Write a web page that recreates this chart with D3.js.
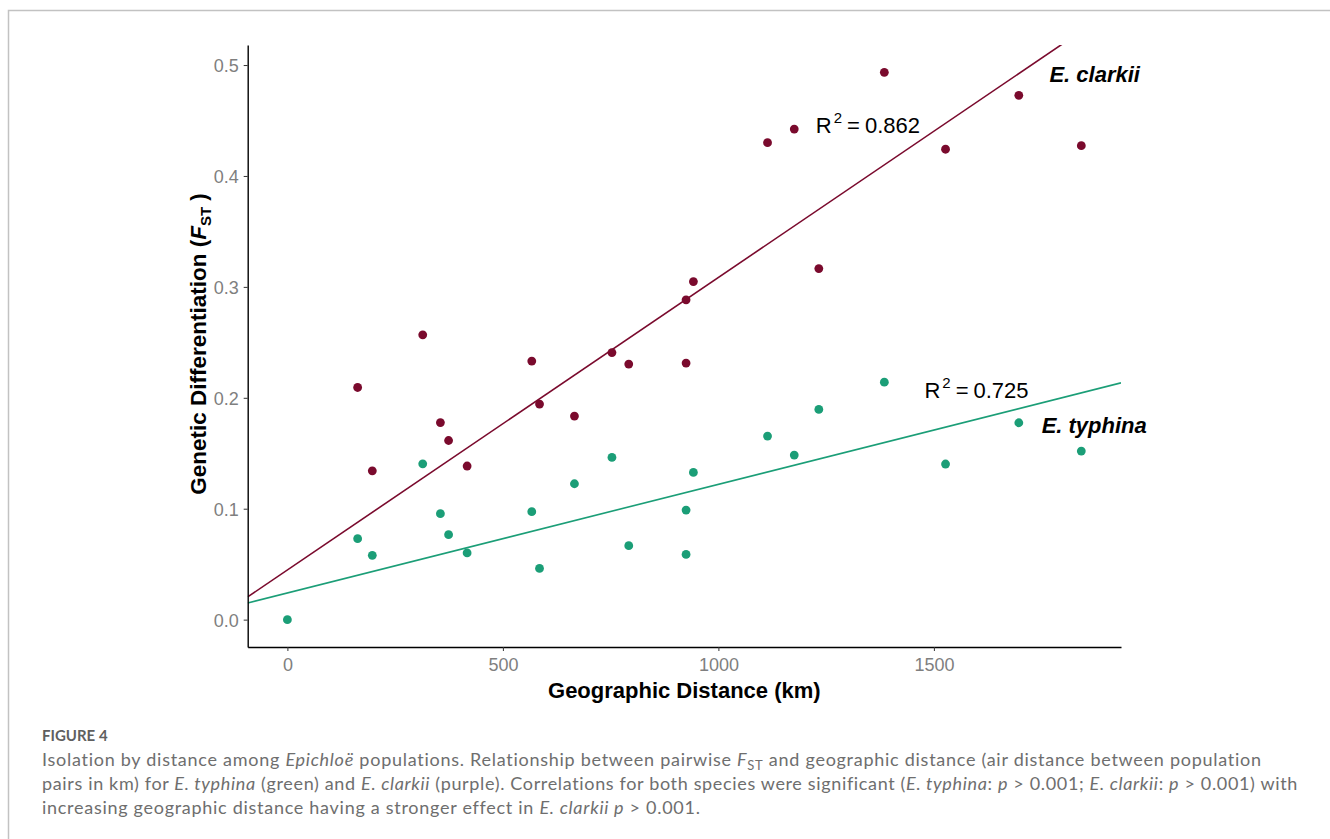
<!DOCTYPE html>
<html>
<head>
<meta charset="utf-8">
<script src="https://cdn.jsdelivr.net/npm/d3@7"></script>
<style>
  body { margin: 0; background: #fff; }
  svg { display: block; }
</style>
</head>
<body>
<div id="chart"></div>
<script>

// pairwise geographic distance between populations (km)
var distanceKm = [0, 163, 197, 314, 355, 374, 417, 567, 585, 666, 753, 792, 925, 925, 942, 1114, 1176, 1233, 1385, 1527, 1697, 1842];
// pairwise Fst for E. typhina
var typhinaFst = [0, 0.073, 0.058, 0.1405, 0.0955, 0.0766, 0.0601, 0.0973, 0.0462, 0.1225, 0.1462, 0.0667, 0.0988, 0.0588, 0.1327, 0.1655, 0.1484, 0.1895, 0.2141, 0.1403, 0.1775, 0.152];
// pairwise Fst for E. clarkii (no zero-distance pair)
var clarkiiFst = [null, 0.2093, 0.1342, 0.2568, 0.1777, 0.1615, 0.1385, 0.2331, 0.1943, 0.1835, 0.2408, 0.2304, 0.2883, 0.2313, 0.3048, 0.43, 0.4423, 0.3165, 0.4934, 0.4241, 0.4727, 0.4273];

var species = ["E. typhina", "E. clarkii"];
var fitIntercept = [0.0241, 0.0448];
var fitSlope = [0.0000979, 0.0002637];
var fitR2 = ["0.725", "0.862"];

// where the labels sit, in data units
var nameKm = [1750, 1768];
var nameFst = [0.168, 0.485];
var r2Km = [1478, 1226];
var r2Fst = [0.1995, 0.439];

var xTicks = [0, 500, 1000, 1500];
var yTicks = [0, 0.1, 0.2, 0.3, 0.4, 0.5];

var colors = ["#1b9e77", "#7a0a2d"];

var width = 1330, height = 839;
var panel = {left: 247.7, right: 1121, top: 45, bottom: 647};
var font = "'Liberation Sans', Arial, Helvetica, sans-serif";

var svg = d3.select("#chart").append("svg")
    .attr("width", width)
    .attr("height", height);

svg.append("rect").attr("width", width).attr("height", height).attr("fill", "#fff");

// page frame (left and top edge only)
svg.append("path")
    .attr("d", "M8.5," + height + "V10.5H" + width)
    .attr("fill", "none")
    .attr("stroke", "#c2c2c2")
    .attr("stroke-width", 1.5);

// ggplot style 5% expansion
var xr = d3.extent(distanceKm);
var allFst = typhinaFst.concat(clarkiiFst.filter(function(d) { return d != null; }));
var yr = d3.extent(allFst);
var xPad = (xr[1] - xr[0]) * 0.05, yPad = (yr[1] - yr[0]) * 0.05;

var x = d3.scaleLinear()
    .domain([xr[0] - xPad, xr[1] + xPad])
    .range([panel.left, panel.right]);
var y = d3.scaleLinear()
    .domain([yr[0] - yPad, yr[1] + yPad])
    .range([panel.bottom, panel.top]);

svg.append("clipPath").attr("id", "clip")
  .append("rect")
    .attr("x", panel.left).attr("y", panel.top)
    .attr("width", panel.right - panel.left)
    .attr("height", panel.bottom - panel.top);

// fitted lines
var series = [typhinaFst, clarkiiFst];
var lines = svg.append("g").attr("clip-path", "url(#clip)");
series.forEach(function(s, i) {
  var ends = x.domain().map(function(k) { return [k, fitIntercept[i] + fitSlope[i] * k]; });
  lines.append("path")
      .attr("d", d3.line().x(function(d) { return x(d[0]); }).y(function(d) { return y(d[1]); })(ends))
      .attr("fill", "none")
      .attr("stroke", colors[i])
      .attr("stroke-width", 1.6);
});

// points
series.forEach(function(s, i) {
  var pts = distanceKm.map(function(k, j) { return {km: k, f: s[j]}; })
      .filter(function(d) { return d.f != null; });
  svg.append("g").selectAll("circle")
      .data(pts)
      .enter()
      .append("circle")
      .attr("cx", function(d) { return x(d.km); })
      .attr("cy", function(d) { return y(d.f); })
      .attr("r", 4.4)
      .attr("fill", colors[i]);
});

// axes
var xAxis = d3.axisBottom(x).tickValues(xTicks).tickSize(4).tickSizeOuter(0).tickPadding(5)
    .tickFormat(d3.format("d"));
var yAxis = d3.axisLeft(y).tickValues(yTicks).tickSize(4).tickSizeOuter(0).tickPadding(5)
    .tickFormat(d3.format(".1f"));

var gx = svg.append("g")
    .attr("transform", "translate(0," + panel.bottom + ")")
    .call(xAxis);
var gy = svg.append("g")
    .attr("transform", "translate(" + panel.left + ",0)")
    .call(yAxis);

[gx, gy].forEach(function(g) {
  g.select(".domain").attr("stroke", "#000").attr("stroke-width", 1.4);
  g.selectAll(".tick line").attr("stroke", "#333").attr("stroke-width", 1);
  g.selectAll(".tick text")
      .attr("fill", "#7f7f7f")
      .style("font-family", font)
      .style("font-size", "18px");
});
gx.selectAll(".tick text").attr("dy", "0.85em");
gy.selectAll(".tick text").attr("dy", "0.36em");

// axis titles
svg.append("text")
    .attr("x", (panel.left + panel.right) / 2)
    .attr("y", 698)
    .attr("text-anchor", "middle")
    .style("font-family", font)
    .style("font-size", "22px")
    .style("font-weight", "bold")
    .text("Geographic Distance (km)");

var yt = svg.append("text")
    .attr("transform", "translate(205.5,344) rotate(-90)")
    .attr("text-anchor", "middle")
    .style("font-family", font)
    .style("font-size", "22.5px")
    .style("font-weight", "bold");
yt.append("tspan").text("Genetic Differentiation (");
yt.append("tspan").style("font-style", "italic").text("F");
yt.append("tspan").attr("dy", 5).style("font-size", "15px").text("ST");
yt.append("tspan").attr("dy", -5).text(" )");

// species names and R2
species.forEach(function(name, i) {
  svg.append("text")
      .attr("x", x(nameKm[i]))
      .attr("y", y(nameFst[i]))
      .style("font-family", font)
      .style("font-size", "22px")
      .style("font-weight", "bold")
      .style("font-style", "italic")
      .text(name);

  var t = svg.append("text")
      .attr("x", x(r2Km[i]))
      .attr("y", y(r2Fst[i]))
      .style("font-family", font)
      .style("font-size", "22px")
      .attr("fill", "#000");
  t.append("tspan").text("R");
  t.append("tspan").attr("dx", 2).attr("dy", -10).style("font-size", "15px").text("2");
  t.append("tspan").attr("dx", 5).attr("dy", 10).text("=");
  t.append("tspan").attr("dx", 5).text(fitR2[i]);
});

// caption
var capFont = "Lato, 'Open Sans', sans-serif";
svg.append("text")
    .attr("x", 42)
    .attr("y", 741)
    .attr("fill", "#5f5f5f")
    .style("font-family", capFont)
    .style("font-size", "15px")
    .style("font-weight", 700)
    .text("FIGURE 4");

var captionLines = [
  [["Isolation by distance among "], ["Epichloë", "i"], [" populations. Relationship between pairwise "], ["F", "i"], ["ST", "sub"], [" and geographic distance (air distance between population"]],
  [["pairs in km) for "], ["E. typhina", "i"], [" (green) and "], ["E. clarkii", "i"], [" (purple). Correlations for both species were significant ("], ["E. typhina", "i"], [": "], ["p", "i"], [" > 0.001; "], ["E. clarkii", "i"], [": "], ["p", "i"], [" > 0.001) with"]],
  [["increasing geographic distance having a stronger effect in "], ["E. clarkii p", "i"], [" > 0.001."]]
];
var captionEnds = [1263, 1298, 700];
var captionY = [766, 790, 814];

captionLines.forEach(function(parts, li) {
  var t = svg.append("text")
      .attr("x", 42)
      .attr("y", captionY[li])
      .attr("fill", "#6e6e6e")
      .style("font-family", capFont)
      .style("font-size", "18px");
  var sub = false;
  parts.forEach(function(p) {
    var s = t.append("tspan").text(p[0]);
    if (p[1] == "i") s.style("font-style", "italic");
    if (p[1] == "sub") { s.attr("dy", 4).style("font-size", "13px"); sub = true; }
    else if (sub) { s.attr("dy", -4); sub = false; }
  });
  var w = t.node().getComputedTextLength();
  var n = t.text().length;
  t.style("letter-spacing", ((captionEnds[li] - 42 - w) / n) + "px");
});

</script>
</body>
</html>
